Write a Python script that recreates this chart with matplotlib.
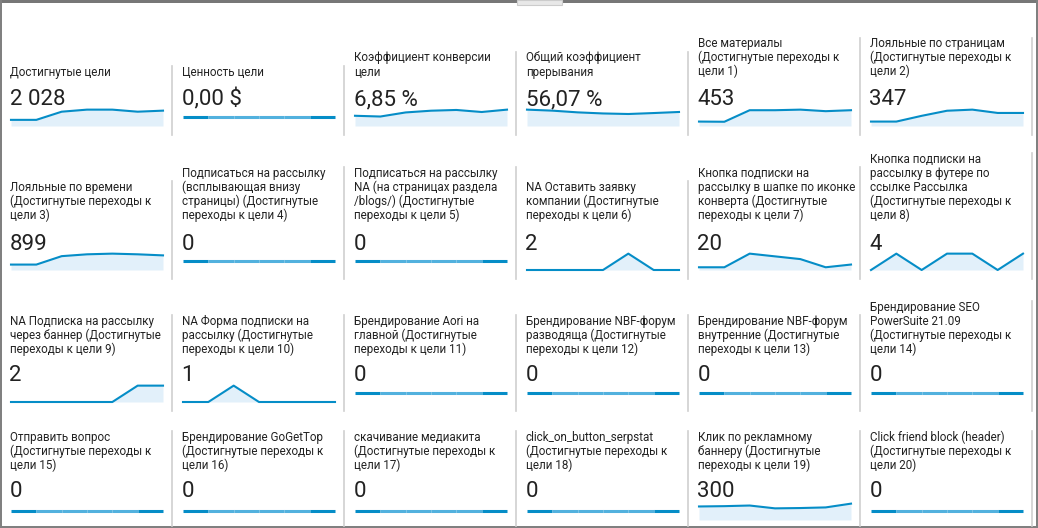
import matplotlib
matplotlib.use("Agg")
import matplotlib.pyplot as plt
from matplotlib.patches import Rectangle
from matplotlib.collections import LineCollection
import numpy as np

W, H = 1038, 528

titles = [
    "Достигнутые цели",
    "Ценность цели",
    "Коэффициент конверсии\nцели",
    "Общий коэффициент\nпрерывания",
    "Все материалы\n(Достигнутые переходы к\nцели 1)",
    "Лояльные по страницам\n(Достигнутые переходы к\nцели 2)",
    "Лояльные по времени\n(Достигнутые переходы к\nцели 3)",
    "Подписаться на рассылку\n(всплывающая внизу\nстраницы) (Достигнутые\nпереходы к цели 4)",
    "Подписаться на рассылку\nNA (на страницах раздела\n/blogs/) (Достигнутые\nпереходы к цели 5)",
    "NA Оставить заявку\nкомпании (Достигнутые\nпереходы к цели 6)",
    "Кнопка подписки на\nрассылку в шапке по иконке\nконверта (Достигнутые\nпереходы к цели 7)",
    "Кнопка подписки на\nрассылку в футере по\nссылке Рассылка\n(Достигнутые переходы к\nцели 8)",
    "NA Подписка на рассылку\nчерез баннер (Достигнутые\nпереходы к цели 9)",
    "NA Форма подписки на\nрассылку (Достигнутые\nпереходы к цели 10)",
    "Брендирование Aori на\nглавной (Достигнутые\nпереходы к цели 11)",
    "Брендирование NBF-форум\nразводяща (Достигнутые\nпереходы к цели 12)",
    "Брендирование NBF-форум\nвнутренние (Достигнутые\nпереходы к цели 13)",
    "Брендирование SEO\nPowerSuite 21.09\n(Достигнутые переходы к\nцели 14)",
    "Отправить вопрос\n(Достигнутые переходы к\nцели 15)",
    "Брендирование GoGetTop\n(Достигнутые переходы к\nцели 16)",
    "скачивание медиакита\n(Достигнутые переходы к\nцели 17)",
    "click_on_button_serpstat\n(Достигнутые переходы к\nцели 18)",
    "Клик по рекламному\nбаннеру (Достигнутые\nпереходы к цели 19)",
    "Click friend block (header)\n(Достигнутые переходы к\nцели 20)",
]

values = ["2 028", "0,00 $", "6,85 %", "56,07 %", "453", "347",
          "899", "0", "0", "2", "20", "4",
          "2", "1", "0", "0", "0", "0",
          "0", "0", "0", "0", "300", "0"]

zeros = [0, 0, 0, 0, 0, 0, 0]
goals_completed = [140, 140, 326, 373, 373, 326, 350]
goal_value = zeros
conversion_rate = [4.75, 4.4, 6.3, 7.1, 7.45, 6.5, 7.6]
abandon_rate = [60, 56.3, 50, 46, 44, 47.5, 51.4]
goal1 = [23, 22, 82, 82, 85, 77, 82]
goal2 = [20, 20, 46, 69, 74, 59, 59]
goal3 = [56, 56, 143, 162, 169, 162, 151]
goal4 = zeros
goal5 = zeros
goal6 = [0, 0, 0, 0, 2, 0, 0]
goal7 = [1, 1, 6, 5, 4, 1, 2]
goal8 = [0, 1, 0, 1, 1, 0, 1]
goal9 = [0, 0, 0, 0, 0, 1, 1]
goal10 = [0, 0, 1, 0, 0, 0, 0]
goal11 = zeros
goal12 = zeros
goal13 = zeros
goal14 = zeros
goal15 = zeros
goal16 = zeros
goal17 = zeros
goal18 = zeros
goal19 = [43, 44, 46, 37, 38, 40, 52]
goal20 = zeros

series = [goals_completed, goal_value, conversion_rate, abandon_rate, goal1, goal2,
          goal3, goal4, goal5, goal6, goal7, goal8,
          goal9, goal10, goal11, goal12, goal13, goal14,
          goal15, goal16, goal17, goal18, goal19, goal20]

# layout (pixels)
col_left = [10 + 172 * c for c in range(6)]
row_title_base = [75.5, 219, 353, 469]
row_value_base = [105, 250, 381, 497]
row_spark_bottom = [126, 270, 402, 520]
row_sep_end = [135, 279, 411, 526]
line_h = 14
spark_w = 152
spark_h = 18

DARK = "#058dc7"
LIGHT = "#52b1de"
FILL = "#e2f0fa"
TXT = "#222222"
FONT = "Roboto"

fig = plt.figure(figsize=(W / 100, H / 100), dpi=100)
fig.patch.set_facecolor("white")


def fx(x):
    return x / W


def fy(y):
    return 1 - y / H


for i, (title, val, data) in enumerate(zip(titles, values, series)):
    r, c = divmod(i, 6)
    x0 = col_left[c]
    lines = title.split("\n")
    n = len(lines)
    for k, ln in enumerate(lines):
        yb = row_title_base[r] - (n - 1 - k) * line_h
        fig.text(fx(x0), fy(yb), ln, fontsize=8.4, color=TXT, family=FONT,
                 ha="left", va="baseline")
    fig.text(fx(x0 - 0.5), fy(row_value_base[r]), val, fontsize=16, color=TXT,
             family=FONT, ha="left", va="baseline")

    # separator on right of cell
    top = row_title_base[r] - (n - 1) * line_h - 10
    sx = 171.5 + 172 * c
    fig.add_artist(plt.Line2D([fx(sx), fx(sx)], [fy(top), fy(row_sep_end[r])],
                              transform=fig.transFigure, color="#cfcfcf", lw=1.2))

    # sparkline
    yb = row_spark_bottom[r]
    ax = fig.add_axes([fx(x0 + 1), fy(yb), spark_w / W, spark_h / H])
    ax.set_axis_off()
    d = np.asarray(data, dtype=float)
    x = np.arange(len(d))
    ax.set_xlim(x[0], x[-1])
    if d.max() == 0:
        ax.set_ylim(-1, 1)
        pts = np.column_stack([x, d])
        segs = [pts[j:j + 2] for j in range(len(d) - 1)]
        cols = [DARK if j in (0, len(segs) - 1) else LIGHT for j in range(len(segs))]
        lc = LineCollection(segs, colors=cols, linewidths=2.2, clip_on=False,
                            capstyle="butt")
        ax.add_collection(lc)
    else:
        ax.set_ylim(0, d.max() * 1.1)
        ax.fill_between(x, 0, d, color=FILL, lw=0)
        ax.plot(x, d, color=DARK, lw=1.5, clip_on=False, solid_joinstyle="round")

# frame
frame_col = "#808080"
fig.add_artist(Rectangle((0, fy(3)), 1, 3 / H, transform=fig.transFigure,
                         color="#777777", lw=0))
fig.add_artist(Rectangle((0, 0), 2 / W, 1, transform=fig.transFigure,
                         color=frame_col, lw=0))
fig.add_artist(Rectangle((fx(1036), 0), 2 / W, 1, transform=fig.transFigure,
                         color=frame_col, lw=0))
fig.add_artist(Rectangle((0, 0), 1, 2 / H, transform=fig.transFigure,
                         color=frame_col, lw=0))
# small tab at top
fig.add_artist(Rectangle((fx(517), fy(5)), 45 / W, 5 / H, transform=fig.transFigure,
                         facecolor="#e8e8e8", edgecolor="#cccccc", lw=0.8))

fig.savefig("out.png", dpi=100, facecolor="white")
